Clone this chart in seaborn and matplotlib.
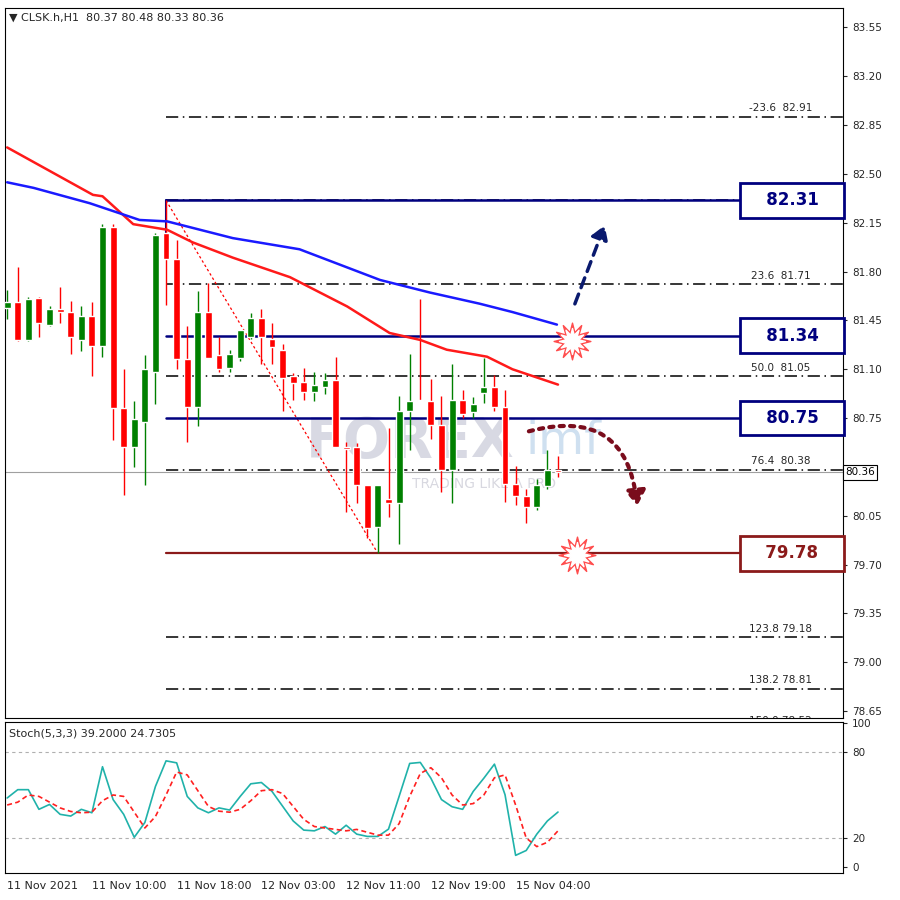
import matplotlib
matplotlib.use("Agg")
import matplotlib.pyplot as plt
import seaborn as sns
import numpy as np
import pandas as pd
from matplotlib.patches import FancyArrowPatch

sns.set_style("white")
plt.rcParams['font.family'] = ['DejaVu Sans']

opens  = [81.54,81.58,81.31,81.61,81.42,81.53,81.51,81.31,81.48,81.27,82.12,80.82,80.54,80.72,81.08,82.08,81.89,81.17,80.83,81.51,81.20,81.11,81.18,81.33,81.47,81.32,81.24,81.05,81.01,80.94,80.97,81.02,80.54,80.54,80.27,79.97,80.17,80.14,80.80,80.88,80.87,80.70,80.38,80.88,80.79,80.93,80.97,80.83,80.28,80.19,80.11,80.26,80.38]
highs  = [81.67,81.83,81.62,81.62,81.55,81.69,81.59,81.55,81.58,82.14,82.14,81.10,80.87,81.20,82.08,82.31,82.03,81.41,81.66,81.72,81.33,81.24,81.38,81.50,81.53,81.43,81.28,81.07,81.11,81.08,81.07,81.19,80.58,80.57,80.27,80.27,80.68,80.91,81.21,81.60,81.03,80.91,81.14,80.95,80.90,81.18,81.06,80.95,80.41,80.24,80.31,80.52,80.48]
lows   = [81.46,81.30,81.30,81.33,81.41,81.43,81.21,81.23,81.05,81.19,80.59,80.20,80.40,80.27,80.85,81.56,81.10,80.58,80.69,81.18,81.08,81.08,81.16,81.32,81.14,81.14,80.80,80.88,80.88,80.87,80.92,80.54,80.08,80.14,79.89,79.78,80.04,79.85,80.52,80.87,80.60,80.22,80.14,80.75,80.75,80.86,80.80,80.15,80.13,80.00,80.09,80.24,80.33]
closes = [81.58,81.31,81.60,81.43,81.53,81.51,81.33,81.48,81.27,82.12,80.82,80.54,80.74,81.10,82.06,81.89,81.17,80.83,81.51,81.18,81.10,81.21,81.38,81.47,81.33,81.26,81.04,81.00,80.94,80.99,81.02,80.54,80.53,80.27,79.96,80.27,80.14,80.80,80.87,80.87,80.70,80.38,80.88,80.78,80.85,80.97,80.83,80.28,80.19,80.11,80.27,80.38,80.36]

ma_red_idx = [0,8.1,9,11.9,15.1,17.5,21.3,26.7,32.1,36.1,39,41.5,45.3,47.7,52]
ma_red     = [82.69,82.35,82.34,82.14,82.10,82.01,81.90,81.76,81.55,81.36,81.31,81.24,81.19,81.10,80.99]
ma_blue_idx = [0,2.5,7.8,12.5,15.1,18.2,21.3,27.6,35.2,39.9,44.6,47.7,51.9]
ma_blue     = [82.44,82.40,82.29,82.17,82.16,82.10,82.04,81.96,81.74,81.65,81.57,81.51,81.42]

stoch_k = [47.9,53.7,53.7,40,43.4,36.5,35.3,40,37.6,69.7,46.8,36.5,20.5,30.8,56,73.8,72.4,49,41,37.6,41,39.5,49,57.8,58.7,52.5,42.2,31.9,25.5,25,28,22.7,28.9,22.7,21.1,21.1,26.2,49,72,72.7,61.7,46.8,41.8,40,52.5,61.7,71.5,50.2,7.9,11.3,22.7,31.9,38.1]
stoch_d = [43,45,50,49,45,41,38.5,37.6,38,46,50,49,38,27,35,50,66,64,53,42,38.7,38,40,46,53,53.7,51,42,33,28,27,26,25,26,24,22,22,30,49,65,69,62,50,43,44,50,62,64,43,20,14,17,25]

fib_levels = [82.91,82.31,81.71,81.05,80.38,79.18,78.81,78.52]
fib_labels = ["-23.6  82.91","","23.6  81.71","50.0  81.05","76.4  80.38","123.8 79.18","138.2 78.81","150.0 78.52"]
sr_levels = [82.31,81.34,80.75]
support = 79.78
last_price = 80.36
yticks = [83.55,83.20,82.85,82.50,82.15,81.80,81.45,81.10,80.75,80.05,79.70,79.35,79.00,78.65]
time_labels = ["11 Nov 2021","11 Nov 10:00","11 Nov 18:00","12 Nov 03:00","12 Nov 11:00","12 Nov 19:00","15 Nov 04:00"]
time_idx = [0,8,16,24,32,40,48]

n = len(opens)
idx = np.arange(n)
fig = plt.figure(figsize=(9,9), dpi=100)
ax = fig.add_axes([0.0056, 0.2022, 0.931, 0.789])
ax2 = fig.add_axes([0.0056, 0.030, 0.931, 0.1678])
xl = (-0.2, 78.9)

x0 = 15
for lv in fib_levels:
    ax.plot([x0, xl[1]], [lv, lv], color='black', lw=1.1, ls=(0,(8,3,1,3)), zorder=1)
for lv, lb in zip(fib_levels, fib_labels):
    if lb:
        t = ax.text(73, lv+0.025, lb, fontsize=7.5, ha='center', va='bottom', clip_on=True)
for lv in sr_levels:
    ax.plot([x0, 69.3], [lv, lv], color='#00007f', lw=1.8, zorder=2)
ax.plot([x0, x0], [82.31, 82.0], color='#00007f', lw=1.5)
ax.plot([x0, 69.3], [support, support], color='#8b1a1a', lw=1.6, zorder=2)
ax.axhline(last_price, color='#a0a0a0', lw=0.8, zorder=1)
ax.plot([x0, 35], [82.31, 79.78], color='red', lw=0.9, ls=(0,(2,2)), zorder=1)

# watermark
ax.text(38, 80.58, "FOREX", fontsize=40, color='#c8cad8', alpha=0.7, ha='center', va='center', fontweight='bold', zorder=0)
ax.text(52.5, 80.58, "imf", fontsize=34, color='#cfe0f0', ha='center', va='center', zorder=0)
ax.text(45, 80.28, "TRADING LIKE A PRO", fontsize=10, color='#d8d8e0', ha='center', va='center', zorder=0)

for i in idx:
    o, h, l, c = opens[i], highs[i], lows[i], closes[i]
    col = '#008000' if c > o else ('#ff0000' if c < o else 'black')
    ax.vlines(i, l, h, color=col, lw=1, zorder=3)
    ax.bar(i, max(abs(c-o), 0.008), bottom=min(o, c), width=0.65, color=col, zorder=4)

sns.lineplot(x=ma_red_idx, y=ma_red, ax=ax, color='#ff1a1a', lw=1.8, zorder=5)
sns.lineplot(x=ma_blue_idx, y=ma_blue, ax=ax, color='#1a1aff', lw=1.8, zorder=5)

ax.add_patch(FancyArrowPatch((53.5, 81.55), (56.5, 82.15), arrowstyle='-|>,head_width=5,head_length=8',
                             color='#0a1a6e', lw=2.5, ls=(0,(3,2)), zorder=6))
ax.add_patch(FancyArrowPatch((49, 80.65), (59.5, 80.1), connectionstyle='arc3,rad=-0.6',
                             arrowstyle='-|>,head_width=6,head_length=9', color='#7a0c1c', lw=3, ls=(0,(1,1.5)), zorder=6))
for (sx, sy) in [(53.3, 81.3), (53.8, 79.77)]:
    ax.scatter([sx], [sy], s=700, marker=(12, 1, 0), color='#ff4d4d', zorder=7)
    ax.scatter([sx], [sy], s=350, marker=(12, 1, 0), color='white', zorder=7)

for lv, ec in [(82.31,'#00007f'),(81.34,'#00007f'),(80.75,'#00007f'),(79.78,'#8b1a1a')]:
    ax.text(74.1, lv, f"   {lv:.2f}   ", fontsize=12, fontweight='bold', color=ec, ha='center', va='center',
            bbox=dict(boxstyle='square,pad=0.5', fc='white', ec=ec, lw=2), zorder=8)

ax.set_xlim(*xl)
ax.set_ylim(78.60, 83.69)
ax.yaxis.tick_right()
ax.set_yticks(yticks)
ax.set_yticklabels([f"{v:.2f}" for v in yticks], fontsize=7.5)
ax.tick_params(axis='y', length=3, direction='out', right=True)
ax.set_xticks([])
ax.text(1.003, (last_price-78.60)/(83.69-78.60), f"{last_price:.2f}", transform=ax.transAxes, fontsize=7.5,
        va='center', ha='left', color='black', bbox=dict(boxstyle='square,pad=0.2', fc='white', ec='black', lw=0.8))
ax.text(0.005, 0.993, "▼ CLSK.h,H1  80.37 80.48 80.33 80.36", transform=ax.transAxes, fontsize=8, va='top')
for s in ax.spines.values():
    s.set_color('black'); s.set_linewidth(0.8)

ax2.axhline(80, color='#b0b0b0', lw=0.8, ls=(0,(3,3)))
ax2.axhline(20, color='#b0b0b0', lw=0.8, ls=(0,(3,3)))
sns.lineplot(x=idx, y=stoch_k, ax=ax2, color='#20b2aa', lw=1.2)
sns.lineplot(x=idx, y=stoch_d, ax=ax2, color='#ff2020', lw=1.2, ls=(0,(3,2)))
ax2.set_xlim(*xl)
ax2.set_ylim(-4.4, 100.9)
ax2.yaxis.tick_right()
ax2.set_yticks([0,20,80,100])
ax2.set_yticklabels(['0','20','80','100'], fontsize=7.5)
ax2.set_xticks(time_idx)
ax2.set_xticklabels(time_labels, fontsize=8, ha='left')
ax2.tick_params(axis='x', length=4, direction='out', pad=2)
ax2.tick_params(axis='y', length=3)
ax2.text(0.005, 0.96, "Stoch(5,3,3) 39.2000 24.7305", transform=ax2.transAxes, fontsize=8, va='top')
for s in ax2.spines.values():
    s.set_color('black'); s.set_linewidth(0.8)

fig.savefig("out.png", dpi=100)
